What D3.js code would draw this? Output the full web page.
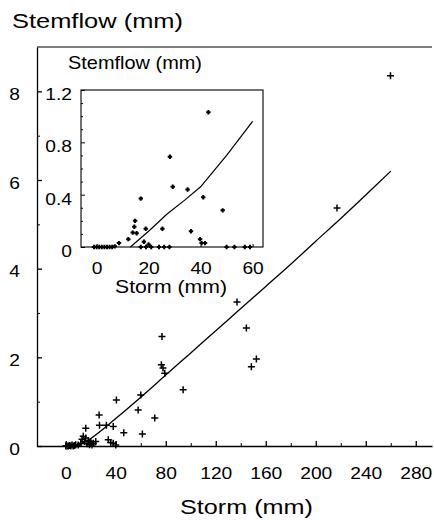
<!DOCTYPE html>
<html>
<head>
<meta charset="utf-8">
<script src="https://cdn.jsdelivr.net/npm/d3@7"></script>
<style>
  html, body { margin: 0; padding: 0; background: #fff; }
  svg { display: block; font-family: "Liberation Sans", Arial, Helvetica, sans-serif; }
</style>
</head>
<body>
<div id="chart"></div>
<script>
// main panel: every storm
const mainStorm = [0, 1, 2, 3, 4, 5, 6, 7, 8, 10, 12, 13, 14, 15, 16, 16, 17, 18, 19, 20,
  21, 22, 24, 26.7, 27, 32.5, 34, 36, 38, 38, 40, 40.5, 46.4, 57.9, 60, 61.3, 71.2,
  77, 76.5, 77.8, 79.2, 93.9, 137, 144.5, 148.5, 152.5, 217, 259.8]
const mainFlow = [0, 0, 0, 0.01, 0, 0.02, 0, 0.01, 0.03, 0.02, 0.06, 0.15, 0.22, 0.1, 0.4, 0.18, 0.05, 0.12, 0.03, 0.1,
  0.02, 0.06, 0.1, 0.7, 0.47, 0.47, 0.14, 0.08, 0.44, 0.06, 0.02, 1.04, 0.3, 0.81, 1.15, 0.27, 0.63,
  2.47, 1.83, 1.76, 1.64, 1.27, 3.25, 2.66, 1.79, 1.96, 5.37, 8.35]
const mainFitStorm = [10, 20, 40, 60, 80, 100, 120, 140, 160, 180, 200, 220, 240, 260]
const mainFitFlow = [0, 0.17, 0.62, 1.1, 1.6, 2.1, 2.6, 3.1, 3.6, 4.1, 4.62, 5.13, 5.66, 6.2]

// inset: small storms only
const insetStorm = [-1, 0, 1, 2, 3, 4, 5, 6, 7, 8.6, 12.2, 13.9, 14.5, 14.8, 15.4, 17, 17, 18.2, 18.9, 19,
  20, 21, 24, 25.3, 26, 28, 28.2, 29.3, 35, 36.3, 39.8, 40.4, 41, 41.7, 43, 48.5, 50, 53, 57, 59]
const insetFlow = [0, 0, 0, 0, 0, 0, 0, 0, 0.005, 0.03, 0.06, 0.11, 0.155, 0.2, 0.105, 0.37, 0, 0.04, 0.14, 0,
  0.02, 0, 0, 0.14, 0, 0, 0.69, 0.46, 0.44, 0.12, 0.06, 0.03, 0.38, 0.03, 1.03, 0.28, 0, 0, 0, 0]
const insetFitStorm = [13, 20, 27, 34, 40, 45, 50, 55, 60]
const insetFitFlow = [0, 0.12, 0.25, 0.36, 0.46, 0.58, 0.7, 0.83, 0.96]

const mainXTicks = [0, 40, 80, 120, 160, 200, 240, 280]
const mainXMinor = [20, 60, 100, 140, 180, 220, 260]
const mainYTicks = [0, 2, 4, 6, 8]
const mainYMinor = [1, 3, 5, 7]
const insetXTicks = [0, 20, 40, 60]
const insetYTicks = [0, 0.4, 0.8, 1.2]
const insetYMinor = [0.1, 0.2, 0.3, 0.5, 0.6, 0.7, 0.9, 1.0, 1.1]

const width = 434, height = 520
const stretch = 1.13

const svg = d3.select("#chart").append("svg")
  .attr("width", width)
  .attr("height", height)
  .attr("viewBox", [0, 0, width, height])

const x = d3.scaleLinear().domain([-23, 293]).range([37, 432])
const y = d3.scaleLinear().domain([0, 9]).range([446, 47])
const ix = d3.scaleLinear().domain([-6, 64]).range([81, 263])
const iy = d3.scaleLinear().domain([0, 1.2]).range([247, 90])

// widen the tick labels a little, the scan is set in a broad face
function widen(g) {
  g.selectAll("text")
    .attr("fill", "#000")
    .attr("font-size", 17)
    .each(function() {
      this.setAttribute("textLength", this.getComputedTextLength() * stretch)
      this.setAttribute("lengthAdjust", "spacingAndGlyphs")
    })
}

function cross(g, data, sx, sy, r, w) {
  g.selectAll("path")
    .data(data)
    .join("path")
    .attr("d", d => `M${sx(d[0]) - r},${sy(d[1])}h${2 * r}M${sx(d[0])},${sy(d[1]) - r}v${2 * r}`)
    .attr("stroke", "#000")
    .attr("stroke-width", w)
    .attr("fill", "none")
}

// ---- main panel ----
svg.append("line")
  .attr("x1", x.range()[0]).attr("x2", x.range()[1])
  .attr("y1", y.range()[1]).attr("y2", y.range()[1])
  .attr("stroke", "#000").attr("stroke-width", 1.2)

svg.append("g")
  .attr("transform", `translate(0, ${y(0)})`)
  .call(d3.axisBottom(x).tickValues(mainXMinor).tickFormat("").tickSize(-3).tickSizeOuter(0))
  .call(g => g.select(".domain").remove())
  .call(g => g.selectAll("line").attr("stroke", "#000"))

svg.append("g")
  .attr("transform", `translate(0, ${y(0)})`)
  .call(d3.axisBottom(x).tickValues(mainXTicks).tickFormat(d3.format("d"))
    .tickSize(-5).tickSizeOuter(0).tickPadding(21))
  .attr("font-family", null)
  .call(g => g.selectAll("line, .domain").attr("stroke", "#000").attr("stroke-width", 1.3))
  .call(widen)

svg.append("g")
  .attr("transform", `translate(${x.range()[0]}, 0)`)
  .call(d3.axisLeft(y).tickValues(mainYMinor).tickFormat("").tickSize(-3).tickSizeOuter(0))
  .call(g => g.select(".domain").remove())
  .call(g => g.selectAll("line").attr("stroke", "#000"))

svg.append("g")
  .attr("transform", `translate(${x.range()[0]}, 0)`)
  .call(d3.axisLeft(y).tickValues(mainYTicks).tickFormat(d3.format("d"))
    .tickSize(-5).tickSizeOuter(0).tickPadding(17))
  .attr("font-family", null)
  .call(g => g.selectAll("line, .domain").attr("stroke", "#000").attr("stroke-width", 1.3))
  .call(g => g.selectAll("text").attr("dy", "0.48em"))
  .call(widen)

const mainLine = d3.line().curve(d3.curveMonotoneX).x(d => x(d[0])).y(d => y(d[1]))
svg.append("path")
  .attr("d", mainLine(d3.zip(mainFitStorm, mainFitFlow)))
  .attr("fill", "none")
  .attr("stroke", "#000")
  .attr("stroke-width", 1.3)

svg.append("g").call(cross, d3.zip(mainStorm, mainFlow), x, y, 3.5, 1.5)

// ---- inset ----
const inset = svg.append("g")

inset.append("rect")
  .attr("x", ix.range()[0]).attr("y", iy.range()[1])
  .attr("width", ix.range()[1] - ix.range()[0])
  .attr("height", iy.range()[0] - iy.range()[1])
  .attr("fill", "#fff")
  .attr("stroke", "#000")
  .attr("stroke-width", 1.1)

inset.append("g")
  .attr("transform", `translate(${ix.range()[0]}, 0)`)
  .call(d3.axisLeft(iy).tickValues(insetYMinor).tickFormat("").tickSize(-2).tickSizeOuter(0))
  .call(g => g.select(".domain").remove())
  .call(g => g.selectAll("line").attr("stroke", "#000"))

inset.append("g")
  .attr("transform", `translate(${ix.range()[0]}, 0)`)
  .call(d3.axisLeft(iy).tickValues(insetYTicks).tickFormat(d => d === 0 ? "0" : d3.format(".1f")(d))
    .tickSize(-4).tickSizeOuter(0).tickPadding(9))
  .attr("font-family", null)
  .call(g => g.select(".domain").remove())
  .call(g => g.selectAll("line").attr("stroke", "#000"))
  .call(g => g.selectAll("text").attr("dy", "0.56em"))
  .call(widen)

inset.append("g")
  .attr("transform", `translate(0, ${iy(0)})`)
  .call(d3.axisBottom(ix).tickValues(insetXTicks).tickFormat(d3.format("d"))
    .tickSize(-3).tickSizeOuter(0).tickPadding(15))
  .attr("font-family", null)
  .call(g => g.select(".domain").remove())
  .call(g => g.selectAll("line").attr("stroke", "#000"))
  .call(widen)

const insetLine = d3.line().x(d => ix(d[0])).y(d => iy(d[1]))
inset.append("path")
  .attr("d", insetLine(d3.zip(insetFitStorm, insetFitFlow)))
  .attr("fill", "none")
  .attr("stroke", "#000")
  .attr("stroke-width", 1.2)

inset.append("g").call(cross, d3.zip(insetStorm, insetFlow), ix, iy, 2.2, 2)

// ---- titles ----
function title(text, tx, ty, size, len) {
  svg.append("text")
    .attr("x", tx)
    .attr("y", ty)
    .attr("font-size", size)
    .attr("textLength", len)
    .attr("lengthAdjust", "spacingAndGlyphs")
    .text(text)
}

title("Stemflow (mm)", 12, 28, 20, 171)
title("Storm (mm)", 180, 514, 20, 133)
title("Stemflow (mm)", 68, 69, 19, 134)
title("Storm (mm)", 115, 293, 18, 112)
</script>
</body>
</html>
